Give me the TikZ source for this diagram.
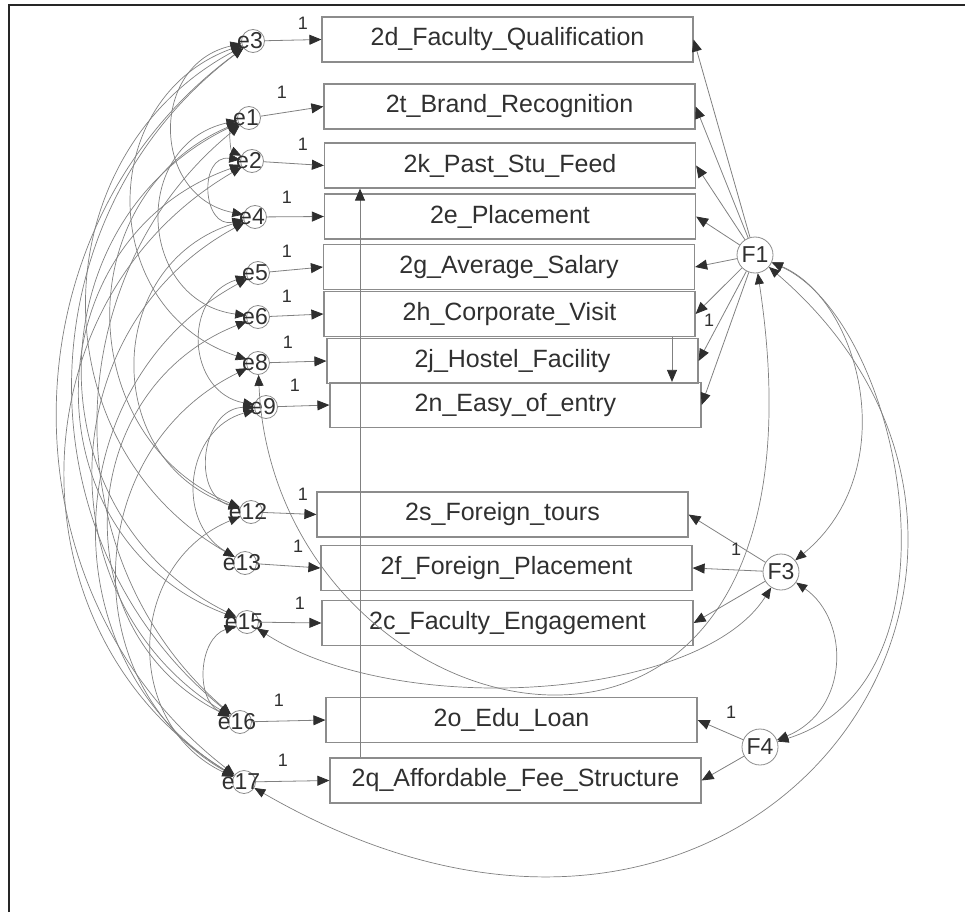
\documentclass[tikz,border=0pt]{standalone}
\usepackage{fontspec}
\setmainfont{Liberation Sans}
\usetikzlibrary{arrows.meta,calc}
\definecolor{txt}{HTML}{303030}
\definecolor{ln}{HTML}{808080}
\definecolor{bx}{HTML}{8C8C8C}
\definecolor{tipc}{HTML}{2E2E2E}
\begin{document}
\begin{tikzpicture}[x=1pt,y=1pt,
 box/.style={draw=bx, line width=1.2pt, minimum width=371pt, minimum height=45pt, inner sep=0pt, text=txt, font=\fontsize{25}{30}\selectfont},
 ecirc/.style={circle, draw=bx, line width=0.8pt, minimum size=23pt, inner sep=0pt},
 etext/.style={text=txt, inner sep=0pt, font=\fontsize{23}{27}\selectfont},
 fcirc/.style={circle, draw=bx, line width=0.8pt, minimum size=36pt, inner sep=0pt, text=txt, font=\fontsize{23}{27}\selectfont},
 one/.style={text=txt, inner sep=0pt, font=\fontsize{18}{21}\selectfont},
 arr/.style={draw=ln, line width=0.8pt, arrows={-Triangle[length=12pt,width=10pt,color=tipc]}},
 cov/.style={draw=ln, line width=0.7pt, arrows={Triangle[length=11pt,width=9pt,color=tipc]-Triangle[length=11pt,width=9pt,color=tipc]}},
]
\useasboundingbox (0,0) rectangle (965,-912);
\coordinate (fa) at (9,-912);
\coordinate (fb) at (9,-5);
\coordinate (fc) at (965,-5);
\draw[line width=2.2pt, black!85] (fa) -- (fb) -- (fc);

% observed variables
\node[box] (b2d) at (507.5,-39.5) {2d\_Faculty\_Qualification};
\node[box] (b2t) at (509.5,-106.5) {2t\_Brand\_Recognition};
\node[box] (b2k) at (510,-165.5) {2k\_Past\_Stu\_Feed};
\node[box] (b2e) at (510,-216.5) {2e\_Placement};
\node[box] (b2g) at (509,-267) {2g\_Average\_Salary};
\node[box] (b2h) at (509.5,-314) {2h\_Corporate\_Visit};
\node[box] (b2j) at (512.5,-361) {2j\_Hostel\_Facility};
\node[box] (b2n) at (515.5,-405) {2n\_Easy\_of\_entry};
\node[box] (b2s) at (502.5,-514.5) {2s\_Foreign\_tours};
\node[box] (b2f) at (506.5,-568) {2f\_Foreign\_Placement};
\node[box] (b2c) at (507.5,-623) {2c\_Faculty\_Engagement};
\node[box] (b2o) at (511.5,-720) {2o\_Edu\_Loan};
\node[box] (b2q) at (515.5,-780.5) {2q\_Affordable\_Fee\_Structure};

% error terms
\foreach \n/\x/\y in {e3/253/41, e1/249/118, e2/252/161, e4/255/217, e5/258/273, e6/258/317, e8/258/363, e9/266/407, e12/251/512, e13/245/563, e15/247/622, e16/240/722, e17/244/782}{
  \node[ecirc] (\n) at (\x,-\y) {};
}
\foreach \n/\x/\y in {e3/253/41, e1/249/118, e2/252/161, e4/255/217, e5/258/273, e6/258/317, e8/258/363, e9/266/407, e12/251/512, e13/245/563, e15/247/622, e16/240/722, e17/244/782}{
  \node[etext] (\n t) at (\x-3,-\y) {\n};
}

% factors
\node[fcirc] (F1) at (755,-255) {F1};
\node[fcirc] (F3) at (781,-572) {F3};
\node[fcirc] (F4) at (760,-747) {F4};

% error -> indicator
\foreach \e/\b in {e3/b2d, e1/b2t, e2/b2k, e4/b2e, e5/b2g, e6/b2h, e8/b2j, e9/b2n, e12/b2s, e13/b2f, e15/b2c, e16/b2o, e17/b2q}{
  \draw[arr] (\e) -- (\b.west);
}
% factor -> indicator
\foreach \b in {b2d,b2t,b2k,b2e,b2g,b2h,b2j,b2n}{ \draw[arr] (F1) -- (\b.east); }
\foreach \b in {b2s,b2f,b2c}{ \draw[arr] (F3) -- (\b.east); }
\foreach \b in {b2o,b2q}{ \draw[arr] (F4) -- (\b.east); }

% indicator -> indicator
\coordinate (vx1) at (360,0);
\coordinate (vx2) at (672,0);
\draw[arr] (b2q.north -| vx1) -- (b2k.south -| vx1);
\draw[arr] (b2h.south -| vx2) -- (b2n.north -| vx2);

% regression weight labels
\foreach \n/\x/\y in {l3/303/23, l1/282/92, l2/303/144, l4/287/197, l5/287/251, l6/287/296, l8/288/342, l9/295/385, l12/303/494, l13/298/546, l15/300/603, l16/279/700, l17/283/760, lF1/709/320, lF3/736/549, lF4/731/712}{
  \node[one] (\n) at (\x,-\y) {1};
}

% covariances among errors
\draw[cov] (e3) to[bend right=78, looseness=1.41] (e4);
\draw[cov] (e3) to[bend right=71, looseness=1.28] (e8);
\draw[cov] (e3) to[bend right=61, looseness=1.15] (e13);
\draw[cov] (e3) to[bend right=52, looseness=1.06] (e16);
\draw[cov] (e3) to[bend right=53, looseness=1.06] (e17);
\draw[cov] (e1) to[bend right=60, looseness=1.0] (e2);
\draw[cov] (e1) to[bend right=80, looseness=1.44] (e6);
\draw[cov] (e1) to[bend right=67, looseness=1.22] (e12);
\draw[cov] (e1) to[bend right=64, looseness=1.18] (e15);
\draw[cov] (e1) to[bend right=50, looseness=1.03] (e16);
\draw[cov] (e2) to[bend right=100, looseness=1.8] (e4);
\draw[cov] (e2) to[bend right=70, looseness=1.26] (e15);
\draw[cov] (e2) to[bend right=59, looseness=1.12] (e17);
\draw[cov] (e4) to[bend right=60, looseness=1.14] (e16);
\draw[cov] (e4) to[bend right=72, looseness=1.31] (e12);
\draw[cov] (e5) to[bend right=76, looseness=1.36] (e9);
\draw[cov] (e5) to[bend right=60, looseness=1.13] (e17);
\draw[cov] (e6) to[bend right=66, looseness=1.21] (e16);
\draw[cov] (e8) to[bend right=62, looseness=1.16] (e17);
\draw[cov] (e9) to[bend right=81, looseness=1.3] (e12);
\draw[cov] (e9) to[bend right=67, looseness=1.22] (e13);
\draw[cov] (e15) to[bend right=67, looseness=1.1] (e16);
\draw[cov] (e12) to[bend right=66, looseness=1.21] (e17);

% covariances on the right
\draw[cov] (F1) .. controls (860,-300) and (905,-470) .. (F3);
\draw[cov] (F1) .. controls (900,-320) and (975,-680) .. (F4);
\draw[cov] (F3) .. controls (850,-620) and (850,-710) .. (F4);
\draw[cov] (F1) .. controls (1110,-560) and (760,-1080) .. (e17);
\draw[cov] (e15) .. controls (400,-720) and (700,-700) .. (F3);
\draw[cov] (e8) .. controls (275,-750) and (850,-880) .. (F1);
\end{tikzpicture}
\end{document}
